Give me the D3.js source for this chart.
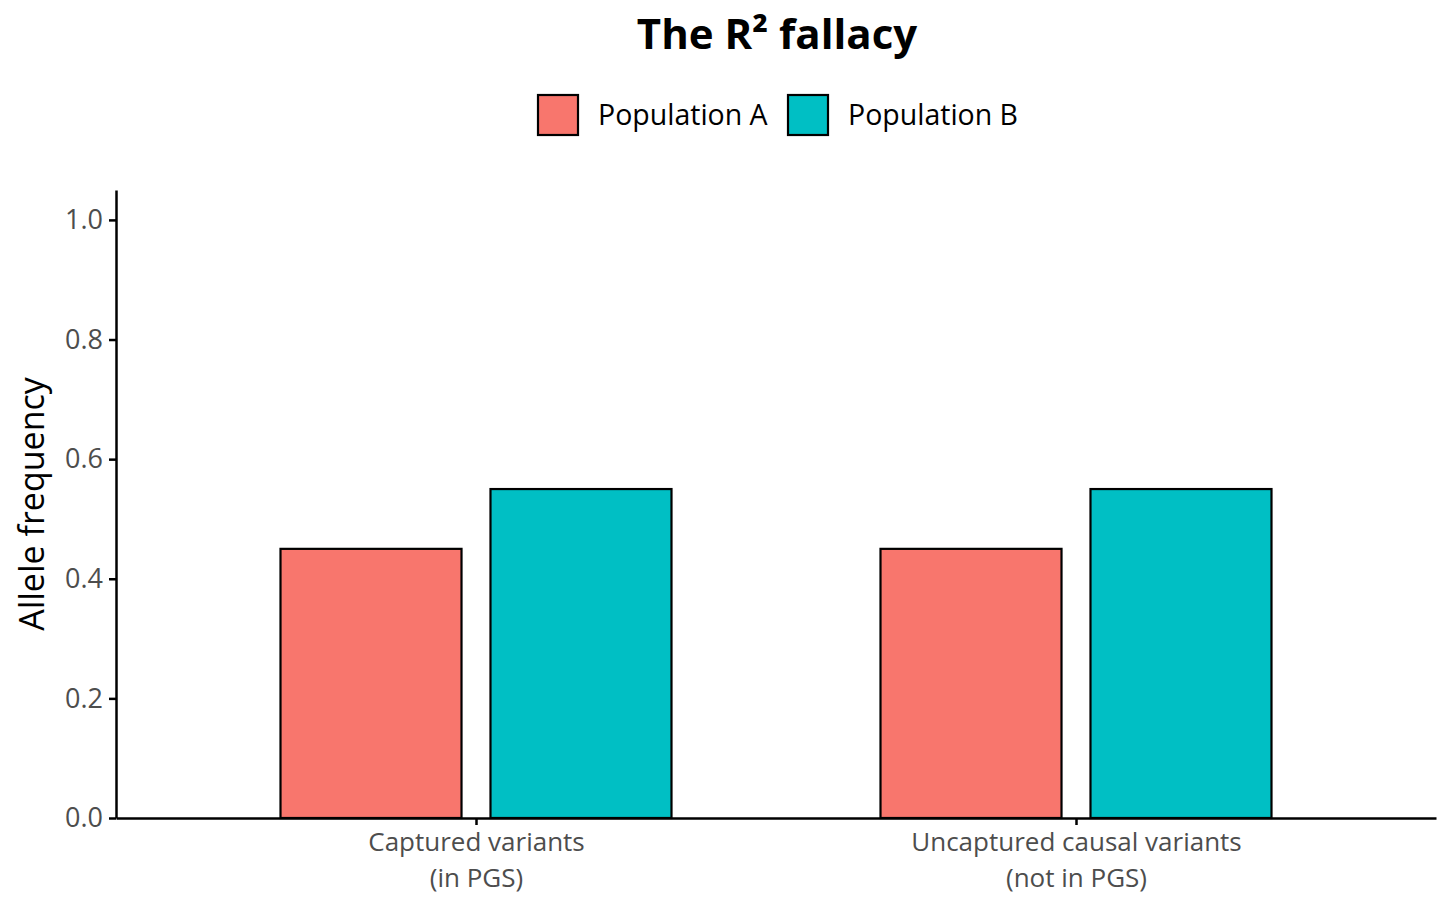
<!DOCTYPE html>
<html>
<head>
<meta charset="utf-8">
<script src="https://cdn.jsdelivr.net/npm/d3@7"></script>
<style>
    body { margin: 0; background: #fff; }
    text { font-family: "Open Sans", "Noto Sans", sans-serif; }
</style>
</head>
<body>
<div class="chart__container"></div>
<script>
/*-------------------------------------INIT-------------------------------------*/

const CHART__WIDTH = 1456;
const CHART__HEIGHT = 910;

const CATEGORIES = [["Captured variants", "(in PGS)"], ["Uncaptured causal variants", "(not in PGS)"]];
const SERIES = ["Population A", "Population B"];
const VALUES_A = [0.45, 0.45];
const VALUES_B = [0.55, 0.55];
const Y_TICKS = [0, 0.2, 0.4, 0.6, 0.8, 1.0];
const COLORS = ["#F8766D", "#00BFC4"];

const MARGIN = {
    top: 190,
    right: 20,
    bottom: 92,
    left: 116
}

/*-------------------------------------Graph-------------------------------------*/

const SVG = d3.select(".chart__container").append("svg")
    .attr("width", CHART__WIDTH)
    .attr("height", CHART__HEIGHT);

const plotW = CHART__WIDTH - MARGIN.left - MARGIN.right;
const plotH = CHART__HEIGHT - MARGIN.top - MARGIN.bottom;

const g = SVG.append("g").attr("transform", `translate(${MARGIN.left},${MARGIN.top})`);

const x = d3.scalePoint()
    .domain(d3.range(CATEGORIES.length))
    .range([0, plotW])
    .padding(0.6);

const groupW = 391;
const xInner = d3.scaleBand()
    .domain(SERIES)
    .range([-groupW / 2, groupW / 2])
    .paddingInner(0.138);

const y = d3.scaleLinear()
    .domain([0, 1.05])
    .range([plotH, 0]);

const data = CATEGORIES.map((c, i) => [
    { key: SERIES[0], value: VALUES_A[i] },
    { key: SERIES[1], value: VALUES_B[i] }
]);

// bars
const groups = g.selectAll(".grp")
    .data(data)
    .join("g")
    .attr("transform", (d, i) => `translate(${x(i)},0)`);

groups.selectAll("rect")
    .data(d => d)
    .join("rect")
    .attr("x", d => xInner(d.key))
    .attr("width", xInner.bandwidth())
    .attr("y", d => y(d.value))
    .attr("height", d => y(0) - y(d.value))
    .attr("fill", (d, i) => COLORS[i])
    .attr("stroke", "#000")
    .attr("stroke-width", 2.2);

// axes
const yAxis = g.append("g")
    .call(d3.axisLeft(y).tickValues(Y_TICKS).tickFormat(d3.format(".1f"))
        .tickSize(7).tickSizeOuter(0).tickPadding(6));

const xAxis = g.append("g")
    .attr("transform", `translate(0,${plotH})`)
    .call(d3.axisBottom(x).tickSize(7).tickSizeOuter(0).tickFormat(""));

[yAxis, xAxis].forEach(a => {
    a.select(".domain").attr("stroke", "#000").attr("stroke-width", 2.5);
    a.selectAll(".tick line").attr("stroke", "#000").attr("stroke-width", 2.5);
});

yAxis.selectAll(".tick text")
    .attr("fill", "#4d4d4d")
    .style("font-size", "27px");

// two-line x labels
xAxis.selectAll(".tick").each(function (d) {
    CATEGORIES[d].forEach((line, k) => {
        d3.select(this).append("text")
            .attr("fill", "#4d4d4d")
            .attr("text-anchor", "middle")
            .attr("y", 33 + k * 36)
            .style("font-size", "26px")
            .text(line);
    });
});

// y title
SVG.append("text")
    .attr("transform", `translate(44,${MARGIN.top + plotH / 2}) rotate(-90)`)
    .attr("text-anchor", "middle")
    .style("font-size", "34px")
    .text("Allele frequency");

// title
SVG.append("text")
    .attr("x", 777)
    .attr("y", 49)
    .attr("text-anchor", "middle")
    .style("font-size", "42px")
    .style("font-weight", "bold")
    .text("The R² fallacy");

// legend
const legend = SVG.append("g").attr("transform", "translate(538,95)");
const legendX = [0, 250];
SERIES.forEach((s, i) => {
    const lg = legend.append("g").attr("transform", `translate(${legendX[i]},0)`);
    lg.append("rect")
        .attr("width", 40).attr("height", 40)
        .attr("fill", COLORS[i])
        .attr("stroke", "#000")
        .attr("stroke-width", 2.2);
    lg.append("text")
        .attr("x", 60).attr("y", 30)
        .style("font-size", "28.5px")
        .text(s);
});
</script>
</body>
</html>
